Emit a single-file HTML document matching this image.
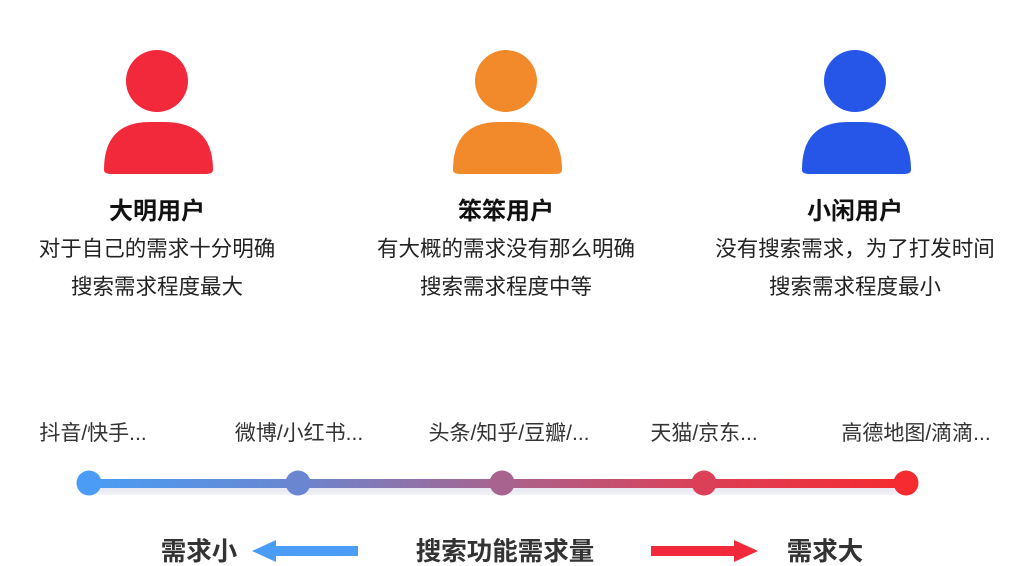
<!DOCTYPE html>
<html><head><meta charset="utf-8"><style>
body{margin:0;width:1033px;height:564px;background:#fff;position:relative;overflow:hidden;font-family:"Liberation Sans","Noto Sans CJK SC",sans-serif;color:#222}
.t{position:absolute;white-space:nowrap;transform:translateX(-50%);line-height:1}
.n{font-size:24px;font-weight:bold;color:#111}
.d{font-size:21.5px;color:#222}
.l{font-size:21px;color:#333}
.b{font-size:25.5px;font-weight:bold;color:#333}
</style></head><body>
<svg width="1033" height="564" style="position:absolute;left:0;top:0">
<defs>
<linearGradient id="g" x1="89" x2="906" gradientUnits="userSpaceOnUse">
<stop offset="0" stop-color="#4a9cf5"/><stop offset="0.25" stop-color="#6a86d0"/><stop offset="0.5" stop-color="#a8648f"/><stop offset="0.75" stop-color="#dc4058"/><stop offset="1" stop-color="#f52b30"/></linearGradient>
<filter id="s"><feGaussianBlur stdDeviation="4"/></filter>
</defs>
<g fill="#f2293b"><circle cx="157" cy="81" r="31"/><path d="M104 170 Q104 122 150 122 L164 122 Q213 122 213 170 Q213 174 205 174 L112 174 Q104 174 104 170Z"/></g>
<g fill="#f28a2b"><circle cx="506" cy="81" r="31"/><path d="M453 170 Q453 122 499 122 L513 122 Q562 122 562 170 Q562 174 554 174 L461 174 Q453 174 453 170Z"/></g>
<g fill="#2556e8"><circle cx="855" cy="81" r="31"/><path d="M802 170 Q802 122 848 122 L862 122 Q911 122 911 170 Q911 174 903 174 L810 174 Q802 174 802 170Z"/></g>
<rect x="95" y="485" width="805" height="9" fill="#c8c8e0" opacity="0.5" filter="url(#s)"/>
<rect x="89" y="479" width="817" height="9" fill="url(#g)"/>
<circle cx="89" cy="483" r="12.5" fill="#4a9cf5"/>
<circle cx="298" cy="483" r="12.5" fill="#6a86d0"/>
<circle cx="502" cy="483" r="12.5" fill="#a8648f"/>
<circle cx="704" cy="483" r="12.5" fill="#dc4058"/>
<circle cx="906" cy="483" r="12.5" fill="#f52b30"/>
<path d="M358 546 L276 546 L276 540 L252 551 L276 562 L276 556 L358 556Z" fill="#4a9cf5"/>
<path d="M651 546 L734 546 L734 540 L758 551 L734 562 L734 556 L651 556Z" fill="#f2293b"/>
</svg>
<div class="t n" style="left:157px;top:200px">大明用户</div>
<div class="t d" style="left:157px;top:239px">对于自己的需求十分明确</div>
<div class="t d" style="left:157px;top:277px">搜索需求程度最大</div>
<div class="t n" style="left:506px;top:200px">笨笨用户</div>
<div class="t d" style="left:506px;top:239px">有大概的需求没有那么明确</div>
<div class="t d" style="left:506px;top:277px">搜索需求程度中等</div>
<div class="t n" style="left:855px;top:200px">小闲用户</div>
<div class="t d" style="left:855px;top:239px">没有搜索需求，为了打发时间</div>
<div class="t d" style="left:855px;top:277px">搜索需求程度最小</div>
<div class="t l" style="left:93px;top:423px">抖音/快手...</div>
<div class="t l" style="left:299px;top:423px">微博/小红书...</div>
<div class="t l" style="left:509px;top:423px">头条/知乎/豆瓣/...</div>
<div class="t l" style="left:704px;top:423px">天猫/京东...</div>
<div class="t l" style="left:916px;top:423px">高德地图/滴滴...</div>
<div class="t b" style="left:199px;top:540px">需求小</div>
<div class="t b" style="left:505px;top:540px">搜索功能需求量</div>
<div class="t b" style="left:825px;top:540px">需求大</div>
</body></html>
